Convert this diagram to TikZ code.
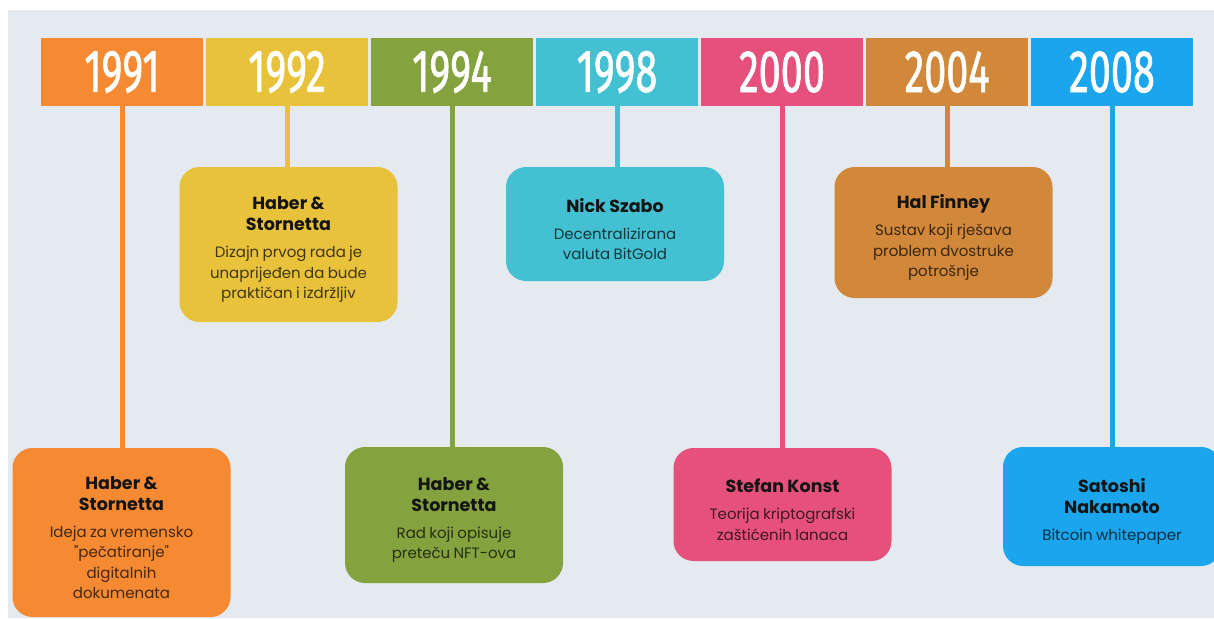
\documentclass[tikz,border=0pt]{standalone}
\usepackage{fontspec}
\setmainfont{Poppins}
\newfontfamily\yearfont{Fira Sans}[FakeBold=1.4]
\definecolor{bgc}{HTML}{E4EAF0}
\definecolor{c1}{HTML}{F68A33}
\definecolor{c2}{HTML}{E9C23B}
\definecolor{c3}{HTML}{84A33F}
\definecolor{c4}{HTML}{43C0D1}
\definecolor{c5}{HTML}{E5517B}
\definecolor{c6}{HTML}{D1883A}
\definecolor{c7}{HTML}{1AA5EC}
\newcommand\yeartext[1]{\scalebox{0.66}[1]{\fontsize{60}{60}\selectfont\yearfont #1}}
\newcommand\boxtext[3]{{\fontsize{17.5}{21}\selectfont\bfseries\color{black!92}#2\par}\vspace{7pt}{\fontsize{15}{20.3}\selectfont\color{black!72!#1}#3\par}}
\tikzset{
  yearbox/.style={minimum width=162pt, minimum height=68pt, inner sep=0pt, text=white},
  infobox/.style={rounded corners=20pt, minimum width=218pt, inner sep=0pt, fill=#1},
  boxtxt/.style={text width=212pt, align=center, inner sep=0pt, yshift=-5pt},
  stem/.style={line width=5pt, draw=#1}
}
\begin{document}
\begin{tikzpicture}[x=1pt,y=-1pt]
\useasboundingbox (0,0) rectangle (1214,618);
\fill[bgc] (8,10) rectangle (1214,618);
% year boxes
\node[yearbox, fill=c1] (y1) at (122,72) {\yeartext{1991}};
\node[yearbox, fill=c2] (y2) at (287,72) {\yeartext{1992}};
\node[yearbox, fill=c3] (y3) at (452,72) {\yeartext{1994}};
\node[yearbox, fill=c4] (y4) at (617,72) {\yeartext{1998}};
\node[yearbox, fill=c5] (y5) at (782,72) {\yeartext{2000}};
\node[yearbox, fill=c6] (y6) at (947,72) {\yeartext{2004}};
\node[yearbox, fill=c7] (y7) at (1112,72) {\yeartext{2008}};
% info boxes
\node[infobox=c1, minimum height=169pt] (b1) at (121.5,532.5) {};
\node[infobox=c2, minimum height=155pt] (b2) at (288.5,244.5) {};
\node[infobox=c3, minimum height=136pt] (b3) at (454,515) {};
\node[infobox=c4, minimum height=114pt] (b4) at (615,224) {};
\node[infobox=c5, minimum height=113pt] (b5) at (782.5,504.5) {};
\node[infobox=c6, minimum height=131pt] (b6) at (943.5,232.5) {};
\node[infobox=c7, minimum height=119pt] (b7) at (1112,506.5) {};
% texts
\node[boxtxt] (t1) at (b1.center) {\boxtext{c1}{Haber \&\\Stornetta}{Ideja za vremensko\\\textquotedbl pečatiranje\textquotedbl\\digitalnih\\dokumenata}};
\node[boxtxt] (t2) at (b2.center) {\boxtext{c2}{Haber \&\\Stornetta}{Dizajn prvog rada je\\unaprijeđen da bude\\praktičan i izdržljiv}};
\node[boxtxt] (t3) at (b3.center) {\boxtext{c3}{Haber \&\\Stornetta}{Rad koji opisuje\\preteču NFT-ova}};
\node[boxtxt] (t4) at (b4.center) {\boxtext{c4}{Nick Szabo}{Decentralizirana\\valuta BitGold}};
\node[boxtxt] (t5) at (b5.center) {\boxtext{c5}{Stefan Konst}{Teorija kriptografski\\zaštićenih lanaca}};
\node[boxtxt] (t6) at (b6.center) {\boxtext{c6}{Hal Finney}{Sustav koji rješava\\problem dvostruke\\potrošnje}};
\node[boxtxt] (t7) at (b7.center) {\boxtext{c7}{Satoshi\\Nakamoto}{Bitcoin whitepaper}};
% stems
\foreach \i/\c in {1/c1,2/c2,3/c3,4/c4,5/c5,6/c6,7/c7}
  \draw[stem=\c] (y\i.south) -- (y\i.south |- b\i.north);
\end{tikzpicture}
\end{document}
